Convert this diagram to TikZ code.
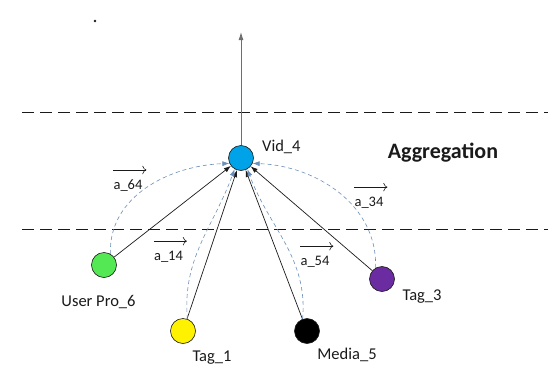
\documentclass[tikz,border=0pt]{standalone}
\usepackage{fontspec}
\setmainfont{Carlito}
\usepackage{xcolor}
\usetikzlibrary{arrows.meta,positioning,calc}
\definecolor{gink}{HTML}{1A1A1A}
\definecolor{ggrey}{HTML}{6E6E6E}
\definecolor{gdash}{HTML}{6A8FB8}
\definecolor{gcyan}{HTML}{00A3E8}
\definecolor{ggreen}{HTML}{55E855}
\definecolor{gyellow}{HTML}{FFF200}
\definecolor{gpurple}{HTML}{6A2CA0}

\tikzset{
  vertex/.style={circle,draw=gink,line width=0.6pt,minimum size=25pt,inner sep=0pt},
  lbl/.style={font=\fontsize{16.5}{18}\selectfont,text=gink},
  coef/.style={font=\fontsize{14.5}{16}\selectfont,text=gink},
  edge/.style={-{Latex[length=7pt,width=5pt]},gink,line width=0.7pt},
  attn/.style={-{Latex[length=7pt,width=5pt]},gdash,dashed,dash pattern=on 4pt off 3pt,line width=0.6pt},
  vecarrow/.style={-{To[length=4pt]},gink,line width=0.6pt},
  layer/.style={gink,dash pattern=on 12pt off 6pt,line width=0.8pt}
}

\begin{document}
\begin{tikzpicture}[x=1pt,y=-1pt]
  \useasboundingbox (0,0) rectangle (552,383);

  % layer borders
  \draw[layer] (22,112) -- (548,112);
  \draw[layer] (22,229) -- (548,229);
  \node[font=\bfseries\fontsize{22}{25}\selectfont,text=gink] (agg) at (443,153) {Aggregation};
  \fill[gink] (95,21) circle (1.3pt);

  % nodes
  \node[vertex,fill=gcyan] (vid) at (241,158) {};
  \node[vertex,fill=ggreen] (user) at (104,265) {};
  \node[vertex,fill=gyellow] (tag1) at (183,331) {};
  \node[vertex,fill=black] (media) at (307,331) {};
  \node[vertex,fill=gpurple] (tag3) at (382,279) {};
  \coordinate (out) at (241,32);

  \node[lbl,anchor=west,inner sep=0pt] (vidl) at (262,147) {Vid\_4};
  \node[lbl] (userl) at (98.5,302) {User Pro\_6};
  \node[lbl] (tag1l) at (212,358) {Tag\_1};
  \node[lbl] (medial) at (347,355) {Media\_5};
  \node[lbl] (tag3l) at (422,297) {Tag\_3};

  % output
  \draw[-{Latex[length=8pt,width=5pt]},ggrey,line width=0.9pt] (vid) -- (out);

  % neighbour edges
  \draw[edge] (user) -- (vid);
  \draw[edge] (tag1) -- (vid);
  \draw[edge] (media) -- (vid);
  \draw[edge] (tag3) -- (vid);

  % attention coefficients
  \draw[attn] (user.60) to[out=92,in=182] (vid.205);
  \draw[attn] (tag1.70) to[out=95,in=250] (vid.240);
  \draw[attn] (media.110) to[out=85,in=290] (vid.300);
  \draw[attn] (tag3.120) to[out=88,in=-2] (vid.-25);

  \node[coef,inner sep=0pt] (a64) at (128,186) {a\_64};
  \node[coef,inner sep=0pt] (a14) at (168.5,257) {a\_14};
  \node[coef,inner sep=0pt] (a54) at (315,262) {a\_54};
  \node[coef,inner sep=0pt] (a34) at (369,203) {a\_34};
  \foreach \a in {a64,a14,a54,a34}
    \draw[vecarrow] ([shift={(0,-10)}]\a.north west) -- ++(33,0);
\end{tikzpicture}
\end{document}
